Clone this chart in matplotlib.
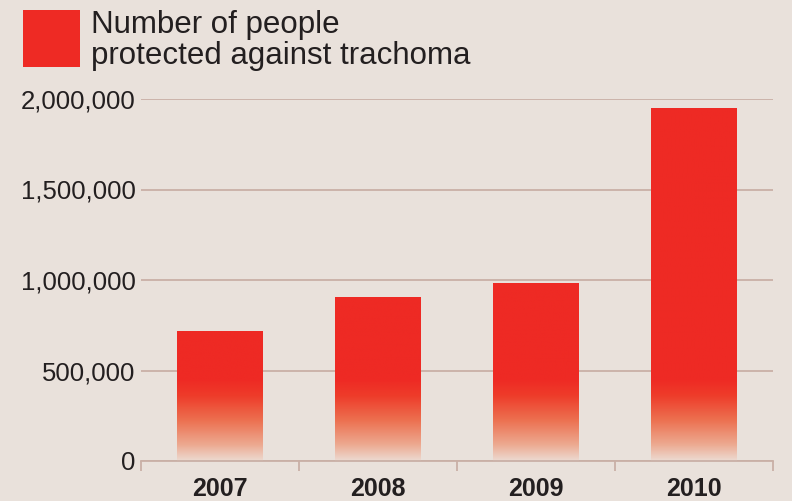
import numpy as np
import matplotlib
matplotlib.use("Agg")
import matplotlib.pyplot as plt
from matplotlib.colors import LinearSegmentedColormap, Normalize
from matplotlib.ticker import FuncFormatter

years = ["2007", "2008", "2009", "2010"]
people_protected = [718000, 906000, 978000, 1945000]
y_ticks = [0, 500000, 1000000, 1500000, 2000000]
legend_label = ["Number of people", "protected against trachoma"]

BG = "#E9E1DB"
RED = "#EE2A24"
GRID = "#C9B0A6"
TEXT = "#231F20"

plt.rcParams["font.family"] = ["Liberation Sans", "DejaVu Sans"]

fig = plt.figure(figsize=(7.92, 5.01), dpi=100, facecolor=BG)
ax = fig.add_axes([141/792, 40/501, 632/792, 362/501])
ax.set_facecolor(BG)

x = np.arange(len(years))
bars = ax.bar(x, people_protected, width=0.54, color="none", edgecolor="none", zorder=2)

cmap = LinearSegmentedColormap.from_list(
    "fade", [(0.0, "#ECDAD1"), (0.2, "#EDA990"), (0.5, "#EC7050"), (0.8, "#EE3C2A"), (1.0, RED)])
fade_height = 450000
for b in bars:
    h = b.get_height()
    yy = np.linspace(0, h, 400).reshape(-1, 1)
    ax.imshow(yy, extent=[b.get_x(), b.get_x() + b.get_width(), 0, h],
              origin="lower", aspect="auto", cmap=cmap,
              norm=Normalize(0, fade_height, clip=True), zorder=2,
              interpolation="bilinear")

ax.set_xlim(-0.5, len(years) - 0.5)
ax.set_ylim(0, 2000000)

ax.set_yticks(y_ticks)
ax.yaxis.set_major_formatter(FuncFormatter(lambda v, p: f"{int(v):,}"))
ax.tick_params(axis="y", length=0, pad=4.0, labelsize=18.5, labelcolor=TEXT)
ax.grid(axis="y", color=GRID, linewidth=1.3, zorder=1)
ax.set_axisbelow(True)

ax.set_xticks(x)
ax.set_xticklabels(years, fontweight="bold")
ax.tick_params(axis="x", length=0, pad=11.5, labelsize=18, labelcolor=TEXT)
ax.set_xticks(np.arange(-0.5, len(years)), minor=True)
ax.tick_params(axis="x", which="minor", length=7, width=1.3, color=GRID, direction="out")

for s in ["top", "right", "left"]:
    ax.spines[s].set_visible(False)
ax.spines["bottom"].set_color(GRID)
ax.spines["bottom"].set_linewidth(1.3)
ax.spines["bottom"].set_zorder(3)

# legend
fig.patches.append(plt.Rectangle((23/792, 1 - 67/501), 57/792, 57/501,
                                 transform=fig.transFigure, facecolor=RED, edgecolor="none"))
fig.text(91/792, 1 - 33/501, legend_label[0], fontsize=22.5, color=TEXT, va="baseline", ha="left")
fig.text(91/792, 1 - 64/501, legend_label[1], fontsize=22.5, color=TEXT, va="baseline", ha="left")

fig.savefig("out.png", dpi=100, facecolor=BG)
